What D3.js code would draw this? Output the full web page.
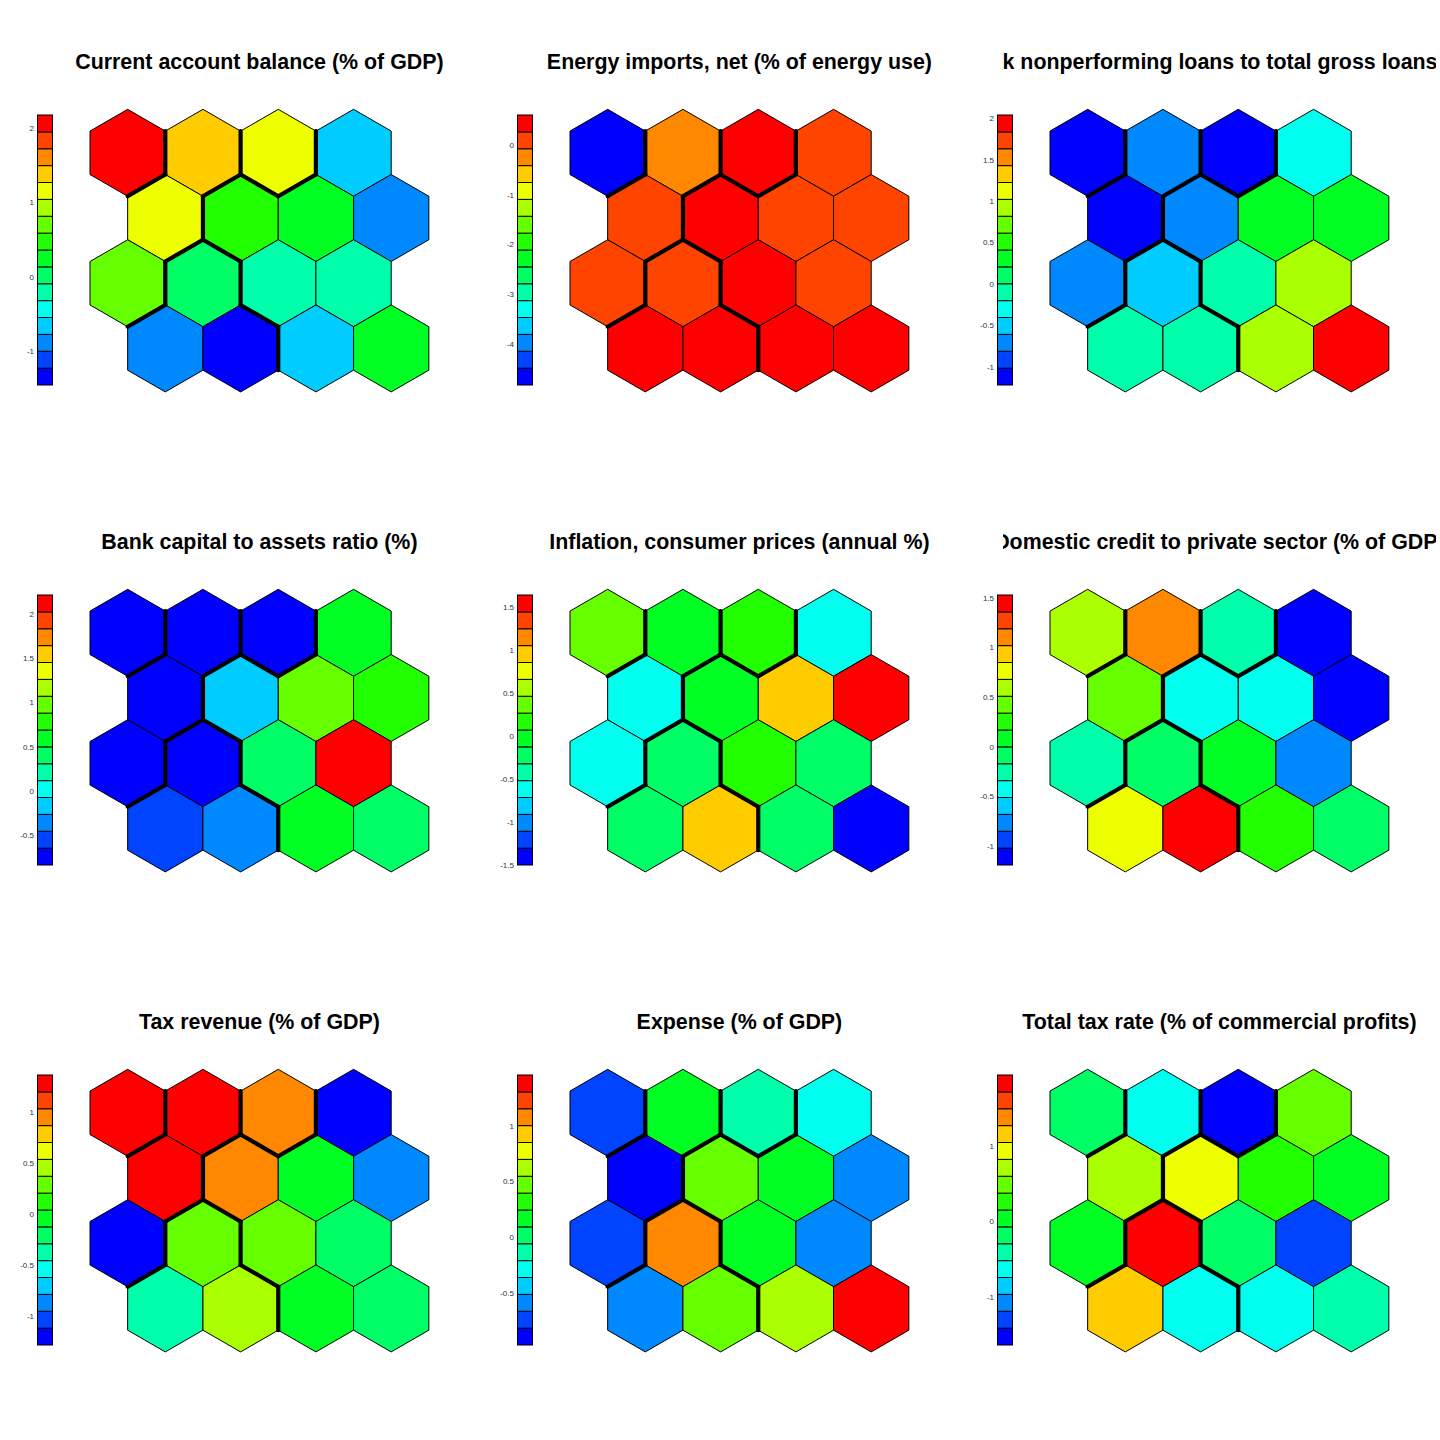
<!DOCTYPE html>
<html>
<head>
<meta charset="utf-8">
<script src="https://cdn.jsdelivr.net/npm/d3@7"></script>
<style>
  html, body { margin: 0; padding: 0; background: #fff; }
  svg { display: block; }
</style>
</head>
<body>
<script>
// ---- data (SOM codebook values per node, row-major from top row, 4x4 hex grid) ----
const titles = [
  "Current account balance (% of GDP)",
  "Energy imports, net (% of energy use)",
  "Bank nonperforming loans to total gross loans (%)",
  "Bank capital to assets ratio (%)",
  "Inflation, consumer prices (annual %)",
  "Domestic credit to private sector (% of GDP)",
  "Tax revenue (% of GDP)",
  "Expense (% of GDP)",
  "Total tax rate (% of commercial profits)"
];
const currentAccount = [ 2.18, 1.38, 1.16, -0.66,  1.16, 0.47, 0.25, -0.89,  0.70, 0.02, -0.21, -0.20,  -0.89, -1.46, -0.66, 0.25];
const energyImports  = [-4.82, -0.25, 0.60, 0.09,  0.12, 0.55, 0.05, 0.10,  0.08, 0.14, 0.52, 0.11,  0.48, 0.57, 0.45, 0.50];
const nonperforming  = [-1.22, -0.71, -1.15, -0.30,  -1.12, -0.73, 0.31, 0.33,  -0.69, -0.51, -0.10, 0.92,  -0.08, -0.12, 0.90, 2.04];
const bankCapital    = [-0.84, -0.79, -0.76, 0.59,  -0.80, -0.17, 0.98, 0.79,  -0.77, -0.82, 0.40, 2.22,  -0.55, -0.36, 0.61, 0.42];
const inflation      = [ 0.36, -0.03, 0.17, -0.62,  -0.60, -0.05, 0.95, 1.64,  -0.64, -0.22, 0.17, -0.24,  -0.20, 0.93, -0.23, -1.50];
const domesticCredit = [ 0.60, 1.10, -0.25, -1.19,  0.43, -0.42, -0.44, -1.13,  -0.26, -0.08, 0.09, -0.77,  0.77, 1.53, 0.26, -0.09];
const taxRevenue     = [ 1.36, 1.31, 0.95, -1.28,  1.29, 0.93, -0.04, -0.87,  -1.22, 0.29, 0.30, -0.21,  -0.37, 0.45, -0.05, -0.20];
const expense        = [-0.74, 0.17, -0.14, -0.29,  -0.97, 0.47, 0.16, -0.59,  -0.75, 1.08, 0.18, -0.60,  -0.58, 0.46, 0.62, 1.46];
const totalTaxRate   = [-0.19, -0.63, -1.64, 0.49,  0.71, 0.93, 0.26, 0.04,  0.05, 1.94, -0.18, -1.30,  1.16, -0.62, -0.64, -0.41];
const clusters       = [1, 2, 3, 4,  2, 4, 4, 4,  2, 5, 4, 4,  5, 5, 4, 4];
const tickSets = [
  [-1, 0, 1, 2],
  [-4, -3, -2, -1, 0],
  [-1, -0.5, 0, 0.5, 1, 1.5, 2],
  [-0.5, 0, 0.5, 1, 1.5, 2],
  [-1.5, -1, -0.5, 0, 0.5, 1, 1.5],
  [-1, -0.5, 0, 0.5, 1, 1.5],
  [-1, -0.5, 0, 0.5, 1],
  [-0.5, 0, 0.5, 1],
  [-1, 0, 1]
];
const seriesList = [currentAccount, energyImports, nonperforming, bankCapital, inflation,
                    domesticCredit, taxRevenue, expense, totalTaxRate];

const nColors = 16;
const palette = d3.range(nColors).map(i => d3.hsl(240 - 16 * i, 1, 0.5).formatHex());

const W = 1440, H = 1440, P = 480;
const svg = d3.select("body").append("svg").attr("width", W).attr("height", H);
const defs = svg.append("defs");

const nRows = 4, nCols = 4;
const hexW = 75.3;
const R = hexW / Math.sqrt(3);

seriesList.forEach((vals, pi) => {
  const pc = pi % 3, pr = Math.floor(pi / 3);
  const ox = pc * P, oy = pr * P;
  const g = svg.append("g").attr("transform", `translate(${ox},${oy})`);
  const [lo, hi] = d3.extent(vals);
  const color = d3.scaleQuantize().domain([lo, hi]).range(palette);

  const x = d3.scaleLinear().domain([0, 4.5]).range([90, 90 + 4.5 * hexW]);
  const y = d3.scaleLinear().domain([0, 3]).range([152.8, 152.8 + 3 * 1.5 * R]);

  const nodes = vals.map((v, i) => {
    const r = Math.floor(i / nCols), c = i % nCols;
    const cx = x(c + 0.5 + (r % 2 ? 0.5 : 0));
    const cy = y(r);
    const pts = d3.range(6).map(k => {
      const a = (60 * k - 90) * Math.PI / 180;
      return [cx + R * Math.cos(a), cy + R * Math.sin(a)];
    });
    return { v, r, c, cx, cy, pts, cl: clusters[i] };
  });

  g.selectAll("path.hex").data(nodes).enter().append("path")
    .attr("class", "hex")
    .attr("d", d => "M" + d.pts.map(p => p.join(",")).join("L") + "Z")
    .attr("fill", d => d.v >= hi ? palette[nColors - 1] : color(d.v))
    .attr("stroke", "#000").attr("stroke-width", 1);

  // cluster boundaries
  const segs = [];
  for (let i = 0; i < nodes.length; i++) {
    for (let j = i + 1; j < nodes.length; j++) {
      if (nodes[i].cl === nodes[j].cl) continue;
      const common = nodes[i].pts.filter(p => nodes[j].pts.some(q => Math.hypot(p[0] - q[0], p[1] - q[1]) < 1));
      if (common.length === 2) segs.push(common);
    }
  }
  g.selectAll("line.bnd").data(segs).enter().append("line")
    .attr("class", "bnd")
    .attr("x1", d => d[0][0]).attr("y1", d => d[0][1])
    .attr("x2", d => d[1][0]).attr("y2", d => d[1][1])
    .attr("stroke", "#000").attr("stroke-width", 4.2).attr("stroke-linecap", "round");

  // color bar
  const cb = d3.scaleLinear().domain([lo, hi]).range([385, 115]);
  const step = (hi - lo) / nColors;
  const cells = d3.range(nColors).map(k => ({ a: lo + k * step, b: lo + (k + 1) * step, col: palette[k] }));
  g.selectAll("rect.cb").data(cells).enter().append("rect")
    .attr("class", "cb")
    .attr("x", 37.5).attr("width", 15)
    .attr("y", d => cb(d.b)).attr("height", d => cb(d.a) - cb(d.b))
    .attr("fill", d => d.col).attr("stroke", "#000").attr("stroke-width", 1);

  g.selectAll("text.tick").data(tickSets[pi]).enter().append("text")
    .attr("class", "tick")
    .attr("x", 34).attr("y", d => cb(d))
    .attr("dy", "0.35em")
    .attr("text-anchor", "end")
    .attr("font-family", "Liberation Sans, Arial, sans-serif")
    .attr("font-size", 8)
    .attr("fill", "#333")
    .text(d => String(d));

  // title (clipped to figure region)
  const cid = "clip" + pi;
  defs.append("clipPath").attr("id", cid).append("rect")
    .attr("x", 43).attr("y", 0).attr("width", 433).attr("height", 120);
  g.append("text")
    .attr("clip-path", `url(#${cid})`)
    .attr("x", (x(0) + x(4.5)) / 2).attr("y", 69)
    .attr("text-anchor", "middle")
    .attr("font-family", "Liberation Sans, Arial, sans-serif")
    .attr("font-weight", "bold")
    .attr("font-size", 21.4)
    .attr("fill", "#000")
    .text(titles[pi]);
});
</script>
</body>
</html>
